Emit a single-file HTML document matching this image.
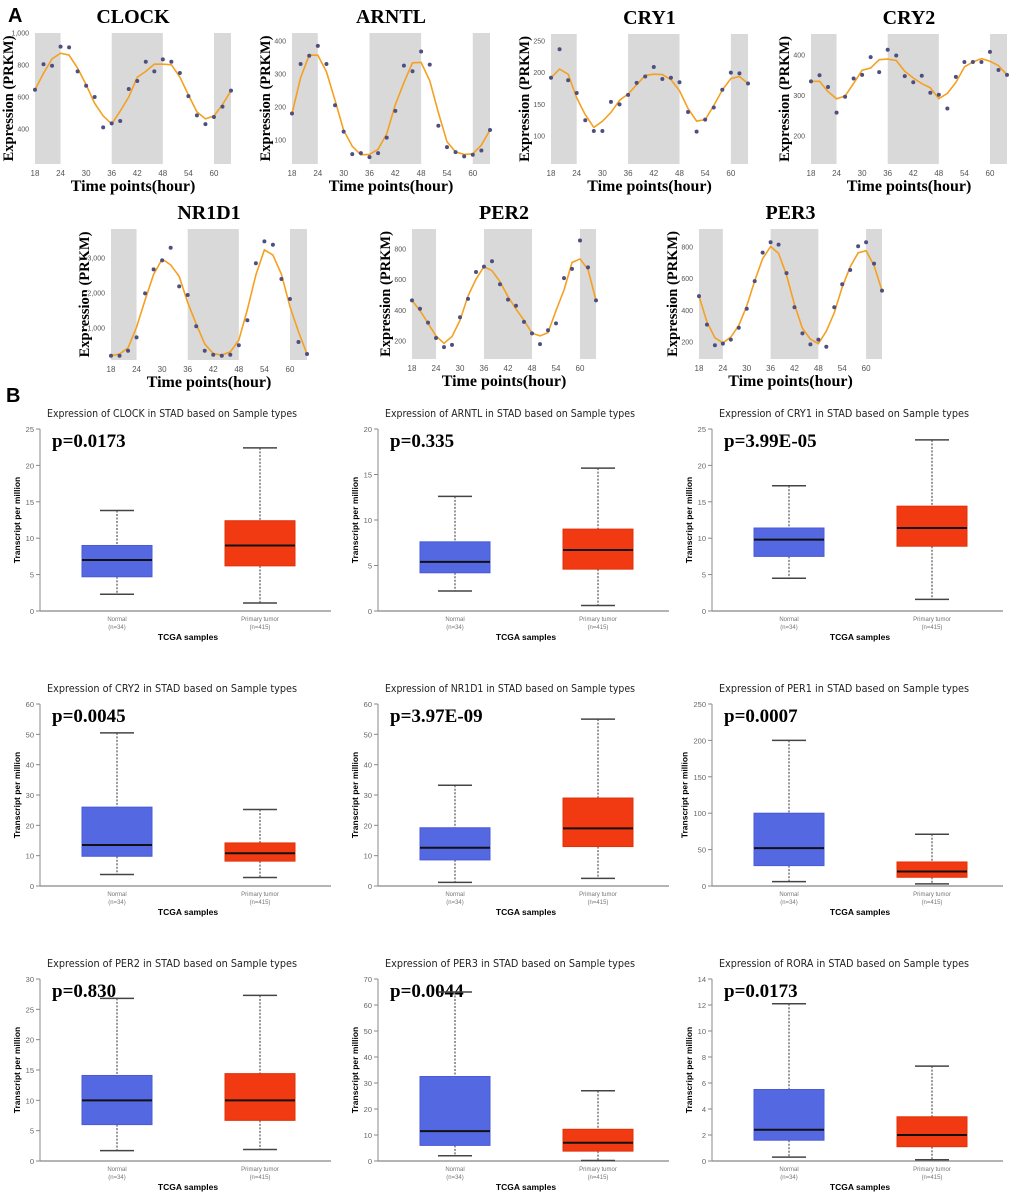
<!DOCTYPE html>
<html><head><meta charset="utf-8"><style>
html,body{margin:0;padding:0;background:#fff;}
svg{display:block;}
</style></head><body>
<svg id="fig" width="1020" height="1197" viewBox="0 0 1020 1197" xmlns="http://www.w3.org/2000/svg">
<text x="8" y="22" font-family="Liberation Sans, sans-serif" font-weight="bold" font-size="20">A</text>
<text x="6" y="402" font-family="Liberation Sans, sans-serif" font-weight="bold" font-size="20">B</text>
</svg>
<script>
// ---------- Part A data ----------
const hours = [18,20,22,24,26,28,30,32,34,36,38,40,42,44,46,48,50,52,54,56,58,60,62,64];
const xTicks = [18,24,30,36,42,48,54,60];
const darkBands = [[18,24],[36,48],[60,64]];
const clockVals = [645,805,795,915,910,760,670,600,410,435,450,650,700,820,760,835,820,750,605,485,430,475,540,640];
const arntlVals = [180,330,355,385,330,205,125,57,60,48,60,107,188,325,308,368,328,143,78,63,50,55,68,130];
const cry1Vals = [192,237,188,168,125,108,108,154,150,165,184,194,209,190,192,185,138,107,126,145,173,200,199,183];
const cry2Vals = [335,350,321,258,297,342,351,395,358,413,399,348,333,349,307,302,268,346,383,383,383,408,363,351];
const nr1d1Vals = [209,209,350,734,1991,2677,2934,3294,2191,1943,1049,351,237,209,237,506,1220,2849,3477,3380,2400,1829,600,257];
const per2Vals = [465,410,320,220,160,175,355,475,650,685,720,570,470,430,325,250,180,270,315,610,670,855,680,465];
const per3Vals = [490,310,180,190,215,290,410,585,765,830,815,635,420,255,185,215,170,420,565,655,805,830,695,525];
const clockTicks = [400,600,800,1000];
const arntlTicks = [100,200,300,400];
const cry1Ticks = [100,150,200,250];
const cry2Ticks = [200,300,400];
const nr1d1Ticks = [1000,2000,3000];
const per2Ticks = [200,400,600,800];
const per3Ticks = [200,400,600,800];

// ---------- Part B data ----------
const boxGenes = ['CLOCK','ARNTL','CRY1','CRY2','NR1D1','PER1','PER2','PER3','RORA'];
const pValues = ['p=0.0173','p=0.335','p=3.99E-05','p=0.0045','p=3.97E-09','p=0.0007','p=0.830','p=0.0044','p=0.0173'];
const yMaxes = [25,20,25,60,60,250,30,70,14];
const yStep = [5,5,5,10,10,50,5,10,2];
// [min, q1, median, q3, max]
const normalStats = [[2.3,4.7,7.0,9.0,13.8],[2.2,4.2,5.4,7.6,12.6],[4.5,7.5,9.8,11.4,17.2],[3.8,9.8,13.5,26,50.5],[1.2,8.6,12.6,19.2,33.2],[6,28,52,100,200],[1.7,6,10,14.1,26.8],[2,6,11.5,32.5,65],[0.3,1.6,2.4,5.5,12.1]];
const tumorStats = [[1.1,6.2,9.0,12.4,22.4],[0.6,4.6,6.7,9.0,15.7],[1.6,8.9,11.4,14.4,23.5],[2.8,8.2,10.8,14.2,25.2],[2.5,13,19,29,55],[3,12,20,33,71],[1.9,6.7,10,14.4,27.3],[0.2,3.8,7,12.2,27],[0.1,1.1,2.0,3.4,7.3]];

const NS='http://www.w3.org/2000/svg';
const svg=document.getElementById('fig');
function el(tag,attrs,parent){const e=document.createElementNS(NS,tag);for(const k in attrs)e.setAttribute(k,attrs[k]);(parent||svg).appendChild(e);return e;}
function txt(s,attrs,parent){const e=el('text',attrs,parent);e.textContent=s;return e;}
function fmt(v){return v>=1000?v.toLocaleString('en-US'):String(v);}

function lineChart(name,vals,ticks,cfg){
  const g=el('g',{});
  
  
  const xs=h=>cfg.x0+(h-18)*(cfg.x1-cfg.x0)/46;
  const ys=v=>cfg.top+(cfg.vTop-v)*(cfg.bot-cfg.top)/(cfg.vTop-cfg.vBot);
  darkBands.forEach(b=>{
    const r=el('rect',{x:xs(b[0]),y:cfg.top,width:xs(b[1])-xs(b[0]),height:cfg.bot-cfg.top,fill:'#d9d9d9'},g);
    
    
  });
  const t=txt(name,{x:(cfg.x0+cfg.x1)/2,y:cfg.top-10,'text-anchor':'middle','font-family':'Liberation Serif, serif','font-weight':'bold','font-size':20},g);
  
  
  const yl=txt('Expression (PRKM)',{transform:`translate(${cfg.x0-22},${(cfg.top+cfg.bot)/2}) rotate(-90)`,'text-anchor':'middle','font-family':'Liberation Serif, serif','font-weight':'bold','font-size':14.5},g);
  
  
  ticks.forEach(v=>{
    const l=txt(fmt(v),{x:cfg.x0-6,y:ys(v)+2.5,'text-anchor':'end','font-family':'Liberation Sans, sans-serif','font-size':7,fill:'#555',stroke:'#fff','stroke-width':2,'paint-order':'stroke'},g);
    
    
  });
  xTicks.forEach(h=>{
    const l=txt(String(h),{x:xs(h),y:cfg.bot+12,'text-anchor':'middle','font-family':'Liberation Sans, sans-serif','font-size':8,fill:'#555'},g);
    
    
  });
  const xl=txt('Time points(hour)',{x:(cfg.x0+cfg.x1)/2,y:cfg.bot+27,'text-anchor':'middle','font-family':'Liberation Serif, serif','font-weight':'bold','font-size':16},g);
  
  
  const sm=vals.map((v,i)=>(i===0||i===vals.length-1)?v:(vals[i-1]+v+vals[i+1])/3);
  const pl=el('polyline',{points:sm.map((v,i)=>xs(hours[i])+','+ys(v)).join(' '),fill:'none',stroke:'#f5a020','stroke-width':1.6},g);
  
  
  vals.forEach((v,i)=>{
    const c=el('circle',{cx:xs(hours[i]),cy:ys(v),r:2,fill:'#4d4f80'},g);
    
    
  });
}
lineChart('CLOCK',clockVals,clockTicks,{x0:35,x1:231,top:33,bot:164,vTop:1000,vBot:181});
lineChart('ARNTL',arntlVals,arntlTicks,{x0:292,x1:490,top:33,bot:164,vTop:424,vBot:27});
lineChart('CRY1',cry1Vals,cry1Ticks,{x0:551,x1:748,top:34,bot:164,vTop:261,vBot:56});
lineChart('CRY2',cry2Vals,cry2Ticks,{x0:811,x1:1007,top:34,bot:164,vTop:452,vBot:131});
lineChart('NR1D1',nr1d1Vals,nr1d1Ticks,{x0:111,x1:307,top:229,bot:360,vTop:3829,vBot:86});
lineChart('PER2',per2Vals,per2Ticks,{x0:412,x1:596,top:229,bot:359,vTop:930,vBot:83});
lineChart('PER3',per3Vals,per3Ticks,{x0:699,x1:882,top:229,bot:359,vTop:914,vBot:93});

// ---------- Part B ----------
const colAxisX=[40,378,712];
const rowTop=[429,704,979];
boxGenes.forEach((gene,i)=>{
  const ax=colAxisX[i%3], top=rowTop[Math.floor(i/3)], zero=top+182;
  const g=el('g',{});
  
  
  const ys=v=>zero-v*(zero-top)/yMaxes[i];
  const t=txt(`Expression of ${gene} in STAD based on Sample types`,{x:ax+7,y:top-12,'font-family':'DejaVu Sans, sans-serif','font-size':10.5,fill:'#222',textLength:250,lengthAdjust:'spacingAndGlyphs'},g);
  
  
  el('line',{x1:ax,y1:top,x2:ax,y2:zero,stroke:'#888','stroke-width':1},g);
  el('line',{x1:ax,y1:zero,x2:ax+291,y2:zero,stroke:'#888','stroke-width':1.2},g);
  const digits=String(yMaxes[i]).length;
  for(let v=0;v<=yMaxes[i]+1e-9;v+=yStep[i]){
    el('line',{x1:ax-4,y1:ys(v),x2:ax,y2:ys(v),stroke:'#888','stroke-width':1},g);
    const l=txt(String(v),{x:ax-6,y:ys(v)+3,'text-anchor':'end','font-family':'Liberation Sans, sans-serif','font-size':7.5,fill:'#666'},g);
    
    
  }
  const yl=txt('Transcript per million',{transform:`translate(${ax-11-4.5*digits},${(top+zero)/2}) rotate(-90)`,'text-anchor':'middle','font-family':'Liberation Sans, sans-serif','font-weight':'bold','font-size':8.5},g);
  
  
  const p=txt(pValues[i],{x:ax+12,y:top+18,'font-family':'Liberation Serif, serif','font-weight':'bold','font-size':19},g);
  
  
  [[normalStats[i],ax+42,'#5468e2','#4a5ad8','Normal','(n=34)','normal-box'],[tumorStats[i],ax+185,'#f23a12','#e0300a','Primary tumor','(n=415)','tumor-box']].forEach(([s,bx,fill,stroke,lab,n,nm])=>{
    const cx=bx+35;
    el('line',{x1:cx,y1:ys(s[4]),x2:cx,y2:ys(s[3]),stroke:'#333','stroke-width':1,'stroke-dasharray':'2,1.5'},g);
    el('line',{x1:cx,y1:ys(s[1]),x2:cx,y2:ys(s[0]),stroke:'#333','stroke-width':1,'stroke-dasharray':'2,1.5'},g);
    el('line',{x1:cx-17,y1:ys(s[4]),x2:cx+17,y2:ys(s[4]),stroke:'#444','stroke-width':1.5},g);
    el('line',{x1:cx-17,y1:ys(s[0]),x2:cx+17,y2:ys(s[0]),stroke:'#444','stroke-width':1.5},g);
    const r=el('rect',{x:bx,y:ys(s[3]),width:70,height:ys(s[1])-ys(s[3]),fill:fill,stroke:stroke,'stroke-width':1},g);
    
    
    el('line',{x1:bx,y1:ys(s[2]),x2:bx+70,y2:ys(s[2]),stroke:'#111','stroke-width':2},g);
    const a=txt(lab,{x:cx,y:zero+10,'text-anchor':'middle','font-family':'Liberation Sans, sans-serif','font-size':6,fill:'#777'},g);
    
    
    txt(n,{x:cx,y:zero+18,'text-anchor':'middle','font-family':'Liberation Sans, sans-serif','font-size':6,fill:'#777'},g);
  });
  const xl=txt('TCGA samples',{x:ax+148,y:zero+29,'text-anchor':'middle','font-family':'Liberation Sans, sans-serif','font-weight':'bold','font-size':8.5},g);
  
  
});
</script>
</body></html>
